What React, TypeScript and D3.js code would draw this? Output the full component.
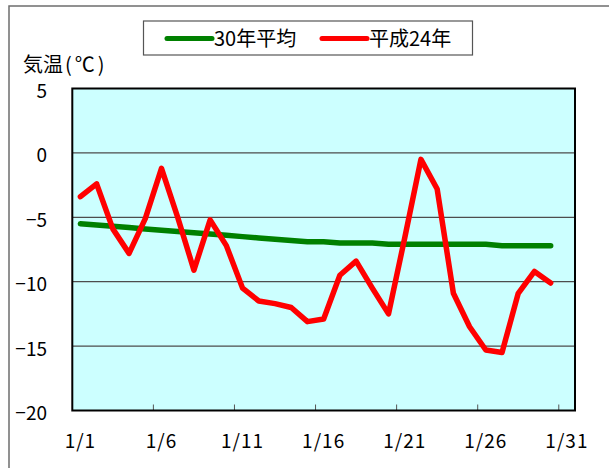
import React, { useEffect, useRef } from "react";
import * as d3 from "d3";

// 1月の日別平均気温
const days: string[] = d3.range(1, 32).map((d) => `1/${d}`);
const tickDays = ["1/1", "1/6", "1/11", "1/16", "1/21", "1/26", "1/31"];
const yTicks = [5, 0, -5, -10, -15, -20];

const avg30: number[] = [
  -5.5, -5.6, -5.7, -5.8, -5.9, -6.0, -6.1, -6.2, -6.3, -6.4,
  -6.5, -6.6, -6.7, -6.8, -6.9, -6.9, -7.0, -7.0, -7.0, -7.1,
  -7.1, -7.1, -7.1, -7.1, -7.1, -7.1, -7.2, -7.2, -7.2, -7.2,
];
const h24: number[] = [
  -3.4, -2.4, -5.9, -7.8, -5.1, -1.2, -5.0, -9.1, -5.2, -7.2,
  -10.5, -11.5, -11.7, -12.0, -13.1, -12.9, -9.5, -8.4, -10.5, -12.5,
  -6.6, -0.5, -2.8, -10.9, -13.5, -15.3, -15.5, -10.9, -9.2, -10.1,
];

const series = [
  { name: "30年平均", values: avg30, color: "#008000" },
  { name: "平成24年", values: h24, color: "#ff0000" },
];

const FONT = "'Noto Sans CJK JP', 'Noto Sans', sans-serif";

export default function App() {
  const ref = useRef<SVGSVGElement>(null);

  useEffect(() => {
    const svg = d3.select(ref.current);
    svg.selectAll("*").remove();

    const left = 72.3, right = 575, top = 88.5, bottom = 410.5;

    const x = d3.scaleBand<string>().domain(days).range([left, right]);
    const y = d3.scaleLinear().domain([-20, 5]).range([bottom, top]);
    const cx = (i: number) => (x(days[i]) as number) + x.bandwidth() / 2;

    // outer frame
    svg.append("rect")
      .attr("x", 9).attr("y", 6)
      .attr("width", 700).attr("height", 600)
      .attr("fill", "#fff")
      .attr("stroke", "#6e6e6e")
      .attr("stroke-width", 1.5);

    // plot background
    svg.append("rect")
      .attr("x", left).attr("y", top)
      .attr("width", right - left).attr("height", bottom - top)
      .attr("fill", "#ccffff");

    // grid lines
    svg.append("g").selectAll("line")
      .data(yTicks.filter((t) => t !== 5 && t !== -20))
      .enter().append("line")
      .attr("x1", left).attr("x2", right)
      .attr("y1", (d) => y(d)).attr("y2", (d) => y(d))
      .attr("stroke", "#4d4d4d")
      .attr("stroke-width", 1.2);

    // x tick marks (inside, at category boundaries)
    svg.append("g").selectAll("line")
      .data(d3.range(5, 31, 5))
      .enter().append("line")
      .attr("x1", (d) => left + d * x.step())
      .attr("x2", (d) => left + d * x.step())
      .attr("y1", bottom).attr("y2", bottom - 6)
      .attr("stroke", "#555")
      .attr("stroke-width", 1);

    // plot border
    svg.append("rect")
      .attr("x", left).attr("y", top)
      .attr("width", right - left).attr("height", bottom - top)
      .attr("fill", "none")
      .attr("stroke", "#000")
      .attr("stroke-width", 2);

    // y labels
    svg.append("g").selectAll("text")
      .data(yTicks)
      .enter().append("text")
      .text((d) => (d < 0 ? "\u2212" + Math.abs(d) : String(d)))
      .attr("x", 47)
      .attr("y", (d) => y(d) + 9.5)
      .attr("text-anchor", "end")
      .attr("font-family", FONT)
      .attr("font-size", 19)
      .attr("fill", "#000");

    // x labels
    svg.append("g").selectAll("text")
      .data(tickDays)
      .enter().append("text")
      .text((d) => d)
      .attr("x", (d) => (x(d) as number) + x.bandwidth() / 2)
      .attr("y", 448)
      .attr("text-anchor", "middle")
      .attr("font-family", FONT)
      .attr("font-size", 19)
      .attr("letter-spacing", 1)
      .attr("fill", "#000");

    // axis title
    const title = svg.append("text")
      .attr("x", 23).attr("y", 72)
      .attr("font-family", FONT)
      .attr("font-size", 20)
      .attr("fill", "#000");
    title.append("tspan").text("気温");
    title.append("tspan").attr("dx", 2).attr("letter-spacing", 3).text("(℃)");

    // lines
    const line = d3.line<number>()
      .x((d, i) => cx(i))
      .y((d) => y(d));

    series.forEach((s) => {
      svg.append("path")
        .datum(s.values)
        .attr("d", line)
        .attr("fill", "none")
        .attr("stroke", s.color)
        .attr("stroke-width", 5.5)
        .attr("stroke-linejoin", "round")
        .attr("stroke-linecap", "round");
    });

    // legend
    svg.append("rect")
      .attr("x", 143.5).attr("y", 21)
      .attr("width", 329).attr("height", 34)
      .attr("fill", "#fff")
      .attr("stroke", "#555")
      .attr("stroke-width", 1.2);

    const legendX = [167, 322];
    series.forEach((s, i) => {
      svg.append("line")
        .attr("x1", legendX[i]).attr("x2", legendX[i] + 45)
        .attr("y1", 38.5).attr("y2", 38.5)
        .attr("stroke", s.color)
        .attr("stroke-width", 5)
        .attr("stroke-linecap", "round");
      svg.append("text")
        .text(s.name)
        .attr("x", legendX[i] + 47)
        .attr("y", 46)
        .attr("font-family", FONT)
        .attr("font-size", 20)
        .attr("fill", "#000");
    });
  }, []);

  return (
    <svg
      ref={ref}
      width={609}
      height={468}
      style={{ position: "absolute", left: 0, top: 0, background: "#fff" }}
    />
  );
}
